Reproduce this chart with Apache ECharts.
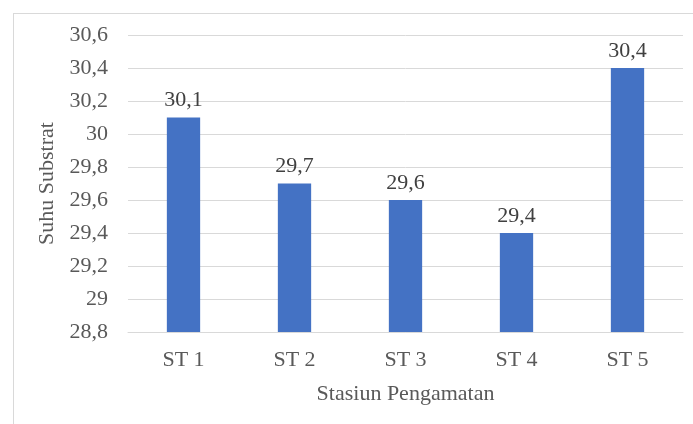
<!DOCTYPE html>
<html><head><meta charset="utf-8">
<script src="https://cdn.jsdelivr.net/npm/echarts@6/dist/echarts.min.js"></script>
<style>html,body{margin:0;padding:0;background:#fff}#frame{position:absolute;left:13px;top:13px;width:700px;height:430px;border:1px solid #d9d9d9;box-sizing:border-box}#c{position:absolute;left:0;top:0;width:693px;height:424px}</style>
</head><body><div id="frame"></div><div id="c"></div>
<script>
const categories = ["ST 1", "ST 2", "ST 3", "ST 4", "ST 5"];
const values = [30.1, 29.7, 29.6, 29.4, 30.4];
const yTicks = [28.8, 29, 29.2, 29.4, 29.6, 29.8, 30, 30.2, 30.4, 30.6];
const fmt = v => String(Math.round(v * 10) / 10).replace('.', ',');
const font = "Liberation Serif";
const fs = 22;
const chart = echarts.init(document.getElementById('c'), null, {renderer: 'canvas'});
chart.setOption({
  animation: false,
  grid: {left: 128, right: 10, top: 35, bottom: 92, containLabel: false},
  xAxis: {
    type: 'category', data: categories,
    axisLine: {lineStyle: {color: '#d9d9d9', width: 1}},
    axisTick: {show: false},
    axisLabel: {color: '#595959', fontFamily: font, fontSize: fs, margin: 17},
    name: 'Stasiun Pengamatan', nameLocation: 'middle', nameGap: 51,
    nameTextStyle: {color: '#595959', fontFamily: font, fontSize: fs}
  },
  yAxis: {
    type: 'value', min: yTicks[0], max: yTicks[yTicks.length - 1], interval: 0.2,
    axisLine: {show: false}, axisTick: {show: false},
    splitLine: {lineStyle: {color: '#d9d9d9', width: 1}},
    axisLabel: {color: '#595959', fontFamily: font, fontSize: fs, margin: 20, formatter: fmt},
    name: 'Suhu Substrat', nameLocation: 'middle', nameGap: 68, nameRotate: 90,
    nameTextStyle: {color: '#595959', fontFamily: font, fontSize: fs}
  },
  series: [{
    type: 'bar', data: values, barWidth: '30%',
    itemStyle: {color: '#4472C4'},
    label: {show: true, position: 'top', distance: 6, color: '#404040', fontFamily: font, fontSize: fs, formatter: p => fmt(p.value)}
  }]
});
</script></body></html>
